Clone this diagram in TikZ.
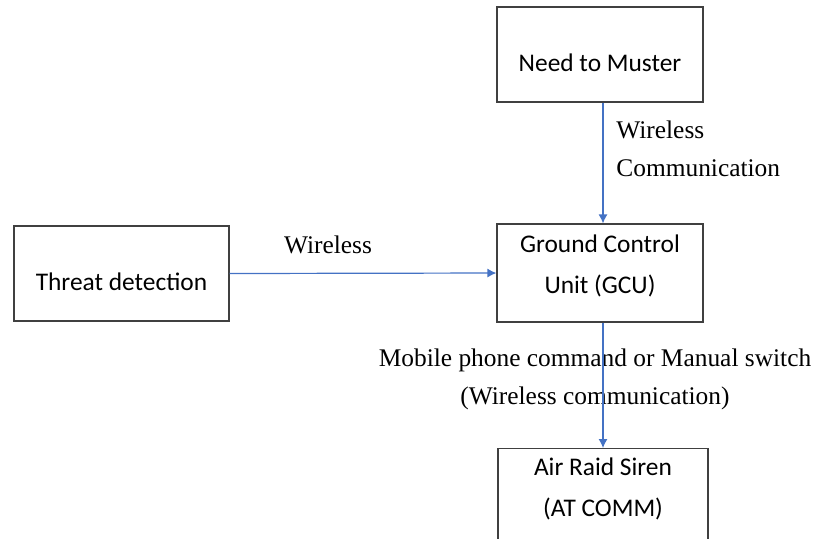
\documentclass[tikz,border=0pt]{standalone}
\usepackage{fontspec}
\setmainfont{Liberation Serif}
\newfontfamily\boxfont{Carlito}
\usetikzlibrary{arrows.meta}

\definecolor{linkblue}{RGB}{68,114,196}

\tikzset{
  blockbox/.style={draw=black!75, line width=0.6pt, minimum width=103pt,
    minimum height=47.5pt, inner sep=0pt},
  blocktext/.style={inner sep=0pt, font=\boxfont\fontsize{12.7}{20.5}\selectfont, align=center},
  linklabel/.style={inner sep=0pt, font=\fontsize{12.7}{19}\selectfont},
  link/.style={draw=linkblue, line width=0.6pt, -{Latex[length=4.5pt,width=4.5pt]}}
}

\begin{document}
\begin{tikzpicture}[x=0.5pt, y=-0.5pt]
  \useasboundingbox (0,0) rectangle (819,538);
  \clip (0,0) rectangle (819,538);

  % blocks
  \node[blockbox] (muster) at (600,54.5) {};
  \node[blockbox, minimum height=49pt] (gcu) at (600,273) {};
  \node[blockbox, minimum width=107.5pt] (threat) at (121.5,273.5) {};
  \node[blockbox, minimum width=105pt, minimum height=65pt, anchor=north] (siren) at (603,448) {};

  % block texts
  \node[blocktext, yshift=-4.25pt] (mustertext) at (muster.center) {Need to Muster};
  \node[blocktext, yshift=3.5pt] (gcutext) at (gcu.center) {Ground Control\\Unit (GCU)};
  \node[blocktext, yshift=-4.25pt] (threattext) at (threat.center) {Threat detection};
  \node[blocktext] (sirentext) at (603,488.5) {Air Raid Siren\\(AT COMM)};

  % labels
  \node[linklabel] (lthreat) at (328,245) {Wireless};
  \node[linklabel, align=left, anchor=west] (lmuster) at (616,149) {Wireless\\Communication};
  \node[linklabel, align=center] (lsiren) at (595,379) {Mobile phone command or Manual switch\\(Wireless communication)};

  % connectors
  \draw[link] (muster.south -| 603,0) -- (gcu.north -| 603,0);
  \draw[link] (threat.east) -- (gcu.west);
  \draw[link] (gcu.south -| 603,0) -- (siren.north);
\end{tikzpicture}
\end{document}
